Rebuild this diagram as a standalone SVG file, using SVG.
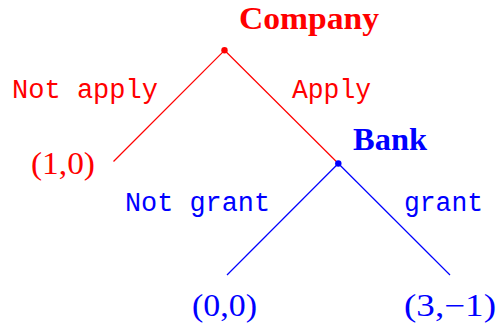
<svg xmlns="http://www.w3.org/2000/svg" width="498" height="327" viewBox="0 0 498 327">
<style>
.red{fill:#ff0000}
.blue{fill:#0000ff}
.title{font-family:"Liberation Serif","Times New Roman",serif;font-weight:bold;font-size:31px}
.mono{font-family:"Liberation Mono","Courier New",monospace;font-size:27px}
.pay{font-family:"Liberation Serif","Times New Roman",serif;font-size:31px}
.edge{stroke-width:1.2;fill:none}
</style>
<rect width="498" height="327" fill="#ffffff"/>
<g id="connectors">
<line class="edge" x1="224.5" y1="50.3" x2="113.5" y2="161.5" stroke="#ff0000"/>
<line class="edge" x1="224.5" y1="50.3" x2="338.3" y2="163.5" stroke="#ff0000"/>
<line class="edge" x1="338.3" y1="163.5" x2="227" y2="275" stroke="#0000ff"/>
<line class="edge" x1="338.3" y1="163.5" x2="450" y2="275" stroke="#0000ff"/>
<text class="mono red" x="12" y="98" textLength="146" lengthAdjust="spacingAndGlyphs">Not apply</text>
<text class="mono red" x="292" y="98" textLength="79" lengthAdjust="spacingAndGlyphs">Apply</text>
<text class="mono blue" x="125" y="211" textLength="145" lengthAdjust="spacingAndGlyphs">Not grant</text>
<text class="mono blue" x="404" y="211" textLength="79" lengthAdjust="spacingAndGlyphs">grant</text>
</g>
<g id="company">
<circle cx="224.5" cy="50.3" r="3.2" class="red"/>
<text class="title red" x="239" y="29" textLength="140" lengthAdjust="spacingAndGlyphs">Company</text>
</g>
<g id="bank">
<circle cx="338.3" cy="163.5" r="3.2" class="blue"/>
<text class="title blue" x="353" y="150" textLength="74" lengthAdjust="spacingAndGlyphs">Bank</text>
</g>
<g id="payoff-not-apply">
<text class="pay red" x="31" y="174" textLength="64" lengthAdjust="spacingAndGlyphs">(1,0)</text>
</g>
<g id="payoff-not-grant">
<text class="pay blue" x="192" y="316" textLength="65" lengthAdjust="spacingAndGlyphs">(0,0)</text>
</g>
<g id="payoff-grant">
<text class="pay blue" x="404" y="316" textLength="92" lengthAdjust="spacingAndGlyphs">(3,−1)</text>
</g>
</svg>
